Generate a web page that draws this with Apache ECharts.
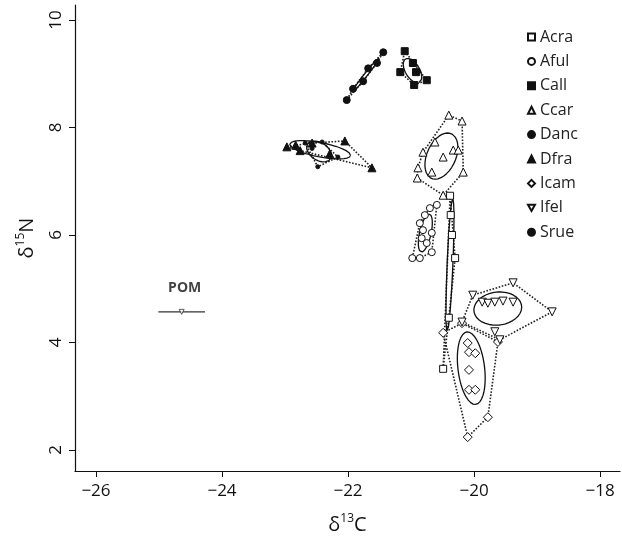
<!DOCTYPE html>
<html><head><meta charset="utf-8">
<script src="https://cdn.jsdelivr.net/npm/echarts@6/dist/echarts.min.js"></script>
<style>html,body{margin:0;padding:0;background:#fff}#c{width:622px;height:543px}</style>
</head><body><div id="c"></div>
<script>
// ---- data (delta13C, delta15N) ----
const species = ['Acra','Aful','Call','Ccar','Danc','Dfra','Icam','Ifel','Srue'];
const acra = [[-20.38,6.73],[-20.37,6.37],[-20.35,6.00],[-20.30,5.57],[-20.40,4.46],[-20.49,3.51]];
const aful = [[-20.59,6.56],[-20.70,6.50],[-20.78,6.37],[-20.86,6.22],[-20.81,6.09],[-20.83,5.94],[-20.67,6.04],[-20.75,5.85],[-20.98,5.57],[-20.86,5.57],[-20.67,5.68]];
const call = [[-21.10,9.42],[-20.97,9.20],[-21.17,9.03],[-20.75,8.88],[-20.95,8.79],[-20.92,9.03]];
const ccar = [[-20.40,8.23],[-20.19,8.12],[-20.62,7.73],[-20.81,7.54],[-20.33,7.58],[-20.25,7.58],[-20.49,7.45],[-20.89,7.25],[-20.67,7.17],[-20.90,7.06],[-20.17,7.17],[-20.49,6.74]];
const danc = [[-22.02,8.51],[-21.92,8.72],[-21.76,8.86],[-21.68,9.10],[-21.54,9.20],[-21.44,9.40]];
const dfra = [[-22.97,7.64],[-22.83,7.67],[-22.57,7.71],[-22.05,7.75],[-21.62,7.25],[-22.76,7.57],[-22.29,7.51]];
const icam = [[-20.49,4.18],[-20.19,4.36],[-19.62,4.01],[-20.10,3.99],[-20.08,3.82],[-19.98,3.80],[-20.08,3.49],[-20.08,3.12],[-19.98,3.12],[-19.78,2.61],[-20.10,2.24]];
const ifel = [[-20.02,4.88],[-19.87,4.75],[-19.78,4.73],[-19.67,4.75],[-19.54,4.77],[-19.38,4.75],[-19.38,5.11],[-18.76,4.57],[-20.19,4.38],[-19.67,4.20],[-19.59,4.05]];
const srue = [[-22.68,7.71],[-22.41,7.73],[-22.48,7.27],[-22.57,7.61],[-22.16,7.45]];
const pomMean = [-24.64, 4.57];
const pomSdX = 0.37;
const xTicks = [-26,-24,-22,-20,-18];
const yTicks = [2,4,6,8,10];

const groups = {Acra:acra,Aful:aful,Call:call,Ccar:ccar,Danc:danc,Dfra:dfra,Icam:icam,Ifel:ifel,Srue:srue};
const invTri = 'path://M0,0 L10,0 L5,9 Z';
const marks = {
  Acra:{symbol:'rect',size:7,fill:'#fff'},
  Aful:{symbol:'circle',size:7,fill:'#fff'},
  Call:{symbol:'rect',size:7,fill:'#111'},
  Ccar:{symbol:'triangle',size:8,fill:'#fff'},
  Danc:{symbol:'circle',size:7,fill:'#111'},
  Dfra:{symbol:'triangle',size:8,fill:'#111'},
  Icam:{symbol:'diamond',size:9,fill:'#fff'},
  Ifel:{symbol:invTri,size:8,fill:'#fff'},
  Srue:{symbol:'circle',size:4,fill:'#111'}
};

function hull(pts){
  const p = pts.slice().sort((a,b)=>a[0]-b[0]||a[1]-b[1]);
  const cross=(o,a,b)=>(a[0]-o[0])*(b[1]-o[1])-(a[1]-o[1])*(b[0]-o[0]);
  const lo=[],up=[];
  for(const q of p){while(lo.length>=2&&cross(lo[lo.length-2],lo[lo.length-1],q)<=0)lo.pop();lo.push(q);}
  for(let i=p.length-1;i>=0;i--){const q=p[i];while(up.length>=2&&cross(up[up.length-2],up[up.length-1],q)<=0)up.pop();up.push(q);}
  const h=lo.slice(0,-1).concat(up.slice(0,-1));
  h.push(h[0]);
  return h;
}
function ellipse(pts){
  const n=pts.length;
  const mx=pts.reduce((s,q)=>s+q[0],0)/n, my=pts.reduce((s,q)=>s+q[1],0)/n;
  let sxx=0,syy=0,sxy=0;
  pts.forEach(q=>{sxx+=(q[0]-mx)**2;syy+=(q[1]-my)**2;sxy+=(q[0]-mx)*(q[1]-my);});
  sxx/=(n-1);syy/=(n-1);sxy/=(n-1);
  const tr=sxx+syy, det=sxx*syy-sxy*sxy;
  const d=Math.sqrt(Math.max(tr*tr/4-det,0));
  const l1=tr/2+d, l2=Math.max(tr/2-d,0);
  const th=0.5*Math.atan2(2*sxy,sxx-syy);
  const a=Math.sqrt(l1), b=Math.sqrt(l2);
  const out=[];
  for(let i=0;i<=72;i++){
    const t=i/72*2*Math.PI;
    out.push([mx+a*Math.cos(th)*Math.cos(t)-b*Math.sin(th)*Math.sin(t),
              my+a*Math.sin(th)*Math.cos(t)+b*Math.cos(th)*Math.sin(t)]);
  }
  return out;
}

const series=[];
species.forEach(sp=>{
  series.push({name:sp+' hull',type:'line',data:hull(groups[sp]),symbol:'none',silent:true,z:1,
    lineStyle:{color:'#222',width:1.6,type:[1.6,1.6]}});
  series.push({name:sp+' ellipse',type:'line',data:ellipse(groups[sp]),symbol:'none',silent:true,z:2,smooth:false,
    lineStyle:{color:'#111',width:1.3}});
});
species.forEach(sp=>{
  const m=marks[sp];
  series.push({name:sp,type:'scatter',data:groups[sp],symbol:m.symbol,symbolSize:m.size,z:5,
    itemStyle:{color:m.fill,borderColor:'#111',borderWidth:1,opacity:1}});
});
series.push({name:'POM bar',type:'line',symbol:'none',silent:true,z:3,
  data:[[pomMean[0]-pomSdX,pomMean[1]],[pomMean[0]+pomSdX,pomMean[1]]],lineStyle:{color:'#333',width:1.2}});
series.push({name:'POM',type:'scatter',data:[pomMean],symbol:invTri,symbolSize:5,z:4,
  itemStyle:{color:'#fff',borderColor:'#333',borderWidth:1},
  label:{show:true,formatter:'POM',position:'top',distance:14,fontWeight:'bold',fontSize:14,color:'#111',fontFamily:'Open Sans',offset:[3,0]}});

const fam='Open Sans';
const chart=echarts.init(document.getElementById('c'),null,{renderer:'canvas'});
chart.setOption({
  animation:false,
  backgroundColor:'#fff',
  grid:{left:75,right:2,top:5,bottom:72,containLabel:false},
  legend:{data:species,orient:'vertical',left:522,top:24,itemWidth:7,itemHeight:7,itemGap:8.4,
    textStyle:{fontSize:16,color:'#222',fontFamily:fam}},
  xAxis:{type:'value',min:-26.333,max:-17.683,splitLine:{show:false},
    axisLine:{show:true,onZero:false,lineStyle:{color:'#111',width:1.2}},
    axisTick:{show:true,customValues:xTicks,length:6,lineStyle:{color:'#111'}},
    axisLabel:{customValues:xTicks,fontSize:17,margin:12,color:'#111',fontFamily:fam,
      formatter:v=>String(v).replace('-','\u2212')},
    name:'{d|δ}{s|13}{d|C}',nameLocation:'middle',nameGap:42,
    nameTextStyle:{rich:{d:{fontSize:20,color:'#111',fontFamily:fam,lineHeight:24},s:{fontSize:12,color:'#111',fontFamily:fam,verticalAlign:'top',lineHeight:24}}}},
  yAxis:{type:'value',min:1.609,max:10.279,splitLine:{show:false},
    axisLine:{show:true,onZero:false,lineStyle:{color:'#111',width:1.2}},
    axisTick:{show:true,customValues:yTicks,length:6,lineStyle:{color:'#111'}},
    axisLabel:{customValues:yTicks,fontSize:17,margin:10,color:'#111',fontFamily:fam,rotate:90},
    name:'{d|δ}{s|15}{d|N}',nameLocation:'middle',nameGap:36,nameRotate:90,
    nameTextStyle:{rich:{d:{fontSize:20,color:'#111',fontFamily:fam,lineHeight:24},s:{fontSize:12,color:'#111',fontFamily:fam,verticalAlign:'top',lineHeight:24}}}},
  series:series
});
</script></body></html>
